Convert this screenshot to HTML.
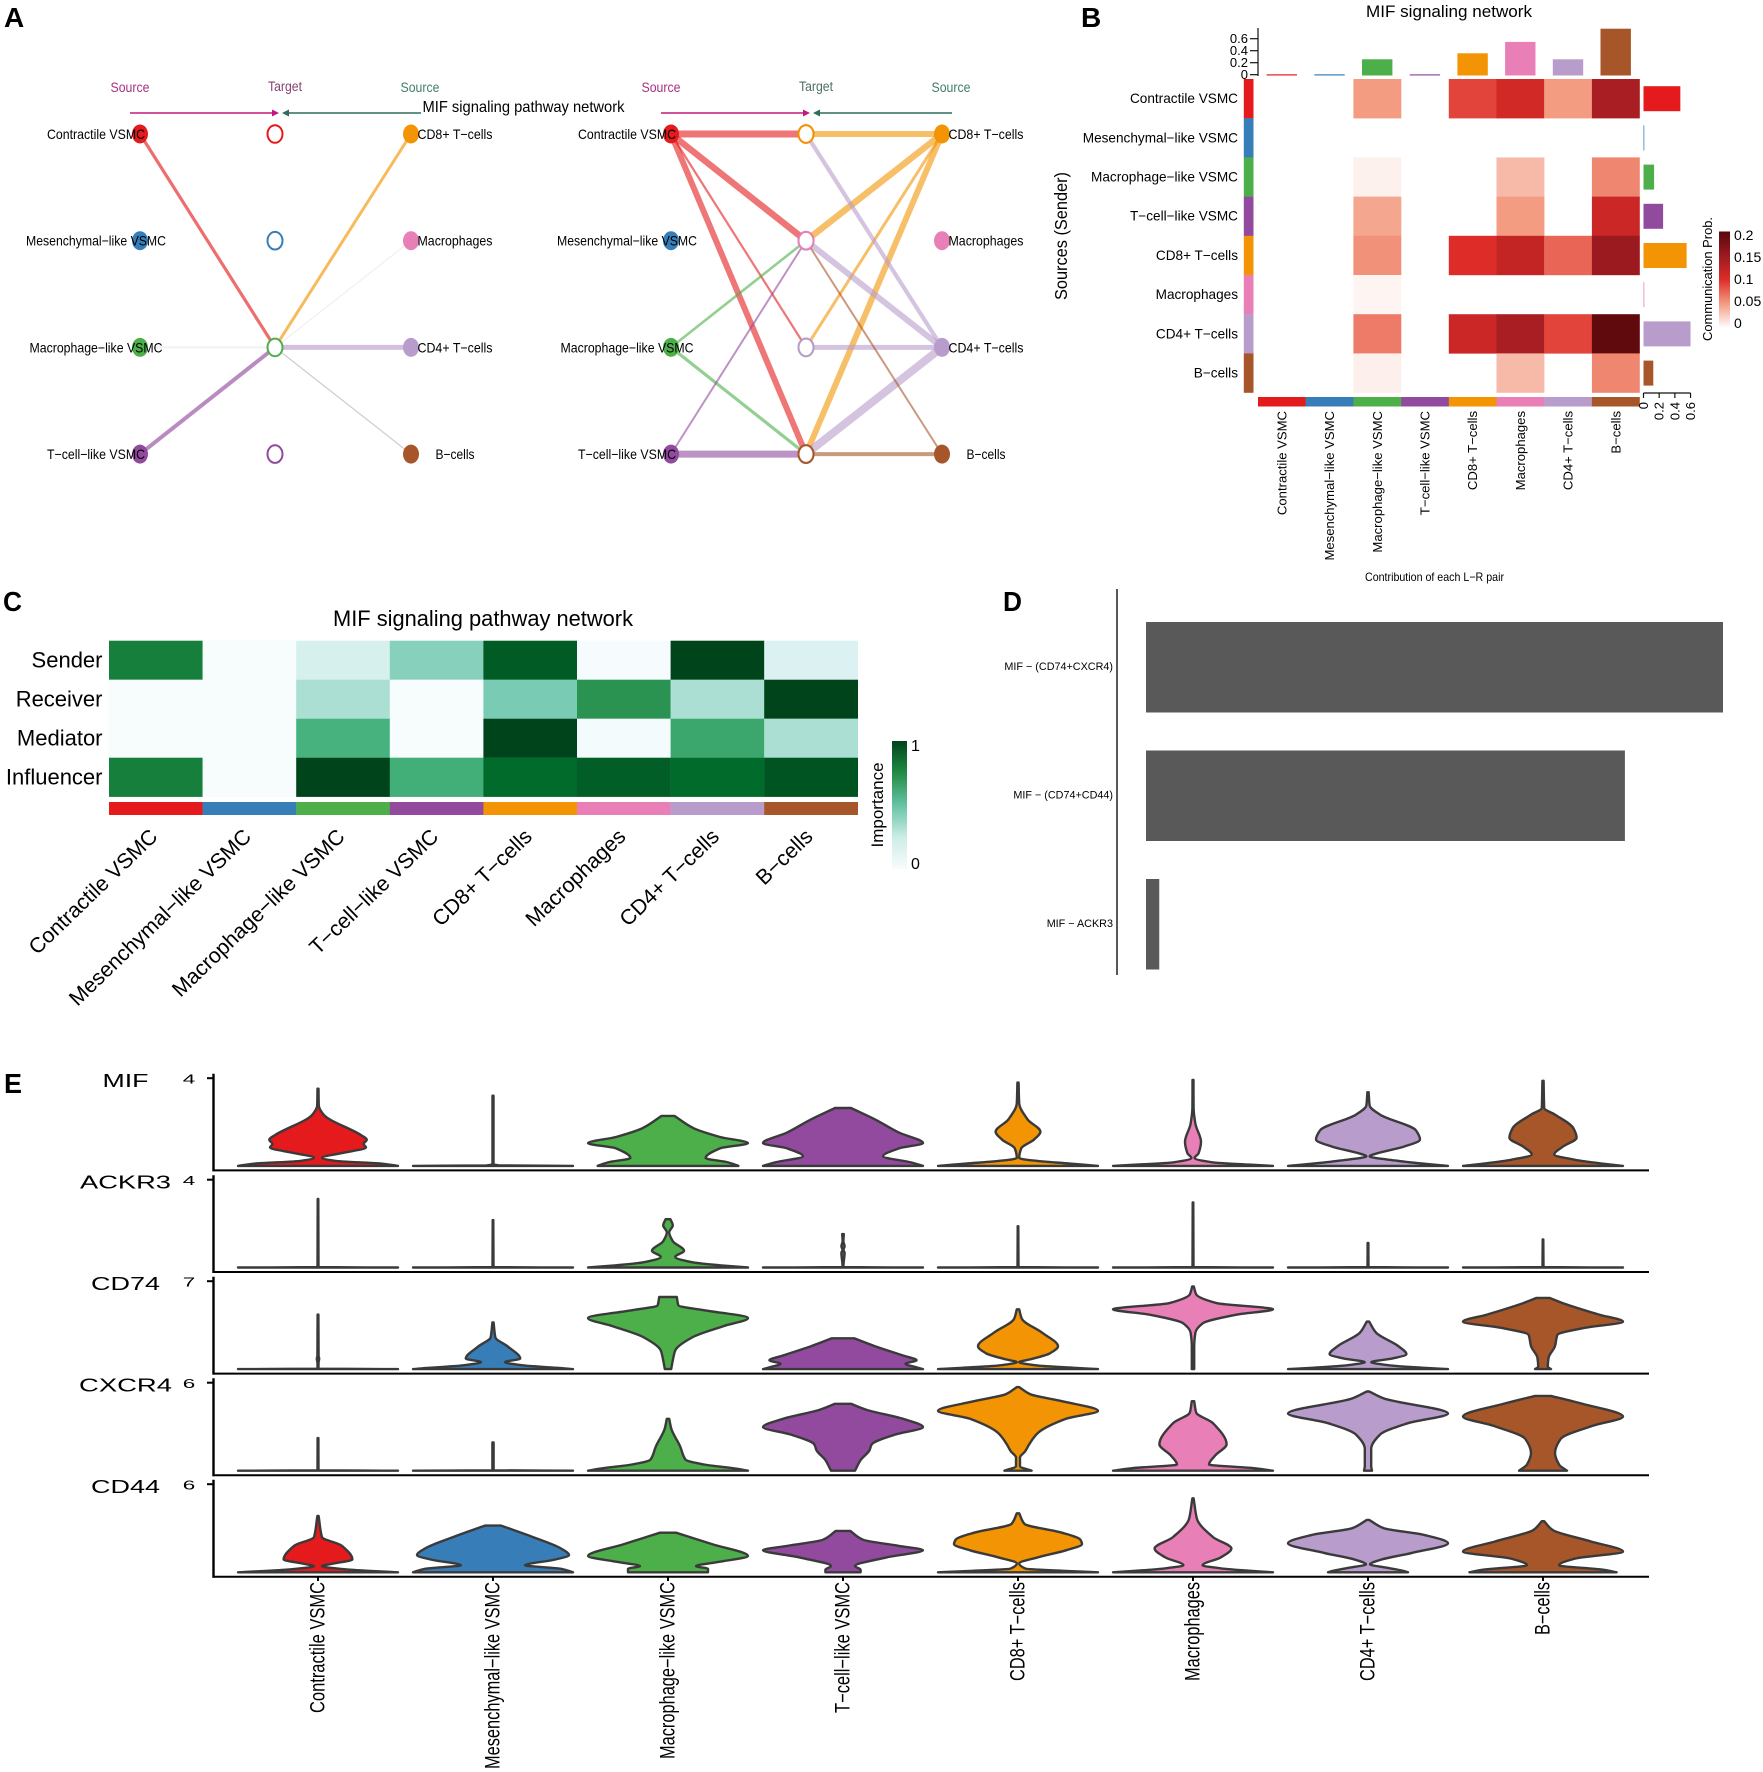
<!DOCTYPE html>
<html lang="en">
<head>
<meta charset="utf-8">
<title>MIF signaling pathway network</title>
<style>
html,body{margin:0;padding:0;background:#fff;}
svg{display:block;font-family:"Liberation Sans",Arial,sans-serif;}
</style>
</head>
<body>
<svg id="figure" xmlns="http://www.w3.org/2000/svg" width="1763" height="1772" viewBox="0 0 1763 1772">
  <defs>
    <linearGradient id="probGrad" x1="0" y1="1" x2="0" y2="0">
      <stop offset="0" stop-color="#ffffff"/><stop offset="0.25" stop-color="#f39c82"/><stop offset="0.5" stop-color="#de2d28"/><stop offset="0.75" stop-color="#9a1a20"/><stop offset="1" stop-color="#5a080c"/>
    </linearGradient>
    <linearGradient id="impGrad" x1="0" y1="1" x2="0" y2="0">
      <stop offset="0" stop-color="#f7fcfd"/><stop offset="0.25" stop-color="#ccece6"/><stop offset="0.5" stop-color="#66c2a4"/><stop offset="0.75" stop-color="#238b45"/><stop offset="1" stop-color="#00441b"/>
    </linearGradient>
  </defs>
  <rect width="1763" height="1772" fill="#fff"/>

  <text x="4" y="27" font-size="28" font-weight="bold">A</text>
  <text x="1081" y="27" font-size="28" font-weight="bold">B</text>
  <text x="3" y="611" font-size="28" font-weight="bold" textLength="19" lengthAdjust="spacingAndGlyphs">C</text>
  <text x="1003" y="611" font-size="28" font-weight="bold" textLength="19" lengthAdjust="spacingAndGlyphs">D</text>
  <text x="4" y="1093" font-size="28" font-weight="bold" textLength="18" lengthAdjust="spacingAndGlyphs">E</text>

  <g id="panelA">
    <text x="422.5" y="112" font-size="16" textLength="202" lengthAdjust="spacingAndGlyphs">MIF signaling pathway network</text>
    <text x="130" y="92" font-size="13.5" text-anchor="middle" fill="#a8307f" textLength="39" lengthAdjust="spacingAndGlyphs">Source</text>
    <text x="285" y="91" font-size="13.5" text-anchor="middle" fill="#8a3f72" textLength="34" lengthAdjust="spacingAndGlyphs">Target</text>
    <text x="420" y="92" font-size="13.5" text-anchor="middle" fill="#3f7f66" textLength="39" lengthAdjust="spacingAndGlyphs">Source</text>
    <text x="661" y="92" font-size="13.5" text-anchor="middle" fill="#a8307f" textLength="39" lengthAdjust="spacingAndGlyphs">Source</text>
    <text x="816" y="91" font-size="13.5" text-anchor="middle" fill="#4c6f66" textLength="34" lengthAdjust="spacingAndGlyphs">Target</text>
    <text x="951" y="92" font-size="13.5" text-anchor="middle" fill="#3f7f66" textLength="39" lengthAdjust="spacingAndGlyphs">Source</text>
    <path d="M130 113H273" stroke="#c2187d" stroke-width="1.6" fill="none"/>
    <path d="M279 113l-7-3.5v7z" fill="#c2187d"/>
    <path d="M421 113H288" stroke="#2e6e5f" stroke-width="1.6" fill="none"/>
    <path d="M282 113l7-3.5v7z" fill="#2e6e5f"/>
    <path d="M661 113H804" stroke="#c2187d" stroke-width="1.6" fill="none"/>
    <path d="M810 113l-7-3.5v7z" fill="#c2187d"/>
    <path d="M952 113H819" stroke="#2e6e5f" stroke-width="1.6" fill="none"/>
    <path d="M813 113l7-3.5v7z" fill="#2e6e5f"/>
  </g>

  <g id="panelB">
    <text x="1449" y="17" font-size="16.5" text-anchor="middle" textLength="166" lengthAdjust="spacingAndGlyphs">MIF signaling network</text>
    <text transform="translate(1067 236) rotate(-90)" font-size="17.5" text-anchor="middle" textLength="128" lengthAdjust="spacingAndGlyphs">Sources (Sender)</text>
    <text transform="translate(1712 279) rotate(-90)" font-size="13" text-anchor="middle" textLength="124" lengthAdjust="spacingAndGlyphs">Communication Prob.</text>
    <text x="1434.5" y="581" font-size="12" text-anchor="middle" textLength="139" lengthAdjust="spacingAndGlyphs">Contribution of each L−R pair</text>
    <rect x="1719" y="231.5" width="11" height="96.5" fill="url(#probGrad)"/>
  </g>

  <g id="panelC">
    <text x="483" y="626" font-size="22" text-anchor="middle" textLength="300" lengthAdjust="spacingAndGlyphs">MIF signaling pathway network</text>
    <rect x="892" y="741" width="15" height="128" fill="url(#impGrad)"/>
    <text transform="translate(883 805) rotate(-90)" font-size="17" text-anchor="middle">Importance</text>
    <text x="911" y="751" font-size="16">1</text>
    <text x="911" y="869" font-size="16">0</text>
  </g>

  <g id="panelD">
    <line x1="1117" y1="589" x2="1117" y2="975" stroke="#111" stroke-width="1.4"/>
  </g>

  <g id="panelE"></g>
</svg>

<script>
// ---------- shared categories ----------
const cellTypes = ['Contractile VSMC', 'Mesenchymal\u2212like VSMC', 'Macrophage\u2212like VSMC', 'T\u2212cell\u2212like VSMC', 'CD8+ T\u2212cells', 'Macrophages', 'CD4+ T\u2212cells', 'B\u2212cells'];
const cellColors = ['#E41A1C', '#377EB8', '#4DAF4A', '#914A9E', '#F29403', '#E87FB6', '#B89CCB', '#A65628'];

// ---------- panel A: network edges (sender, receiver, weight) ----------
const leftEdges = [[0,2,3.2],[2,2,0.5],[3,2,4],[4,2,3],[5,2,0.3],[6,2,5],[7,2,0.32]];
const rightEdges = [[0,4,7],[0,5,6.5],[0,6,2.2],[0,7,6],[2,5,2.6],[2,7,3.2],[3,5,2],[3,7,7],[4,4,6],[4,5,6.5],[4,6,3],[4,7,6],[6,4,4.2],[6,5,6],[6,6,5],[6,7,8],[7,5,2],[7,7,4]];

// ---------- panel B: heatmap values and margins ----------
const probMatrix = [
  [null,null,0.05,null,0.09,0.11,0.05,0.14],
  [null,null,null,null,null,null,null,null],
  [null,null,0.007,null,null,0.035,null,0.06],
  [null,null,0.045,null,null,0.05,null,0.115],
  [null,null,0.055,null,0.1,0.12,0.075,0.15],
  [null,null,0.005,null,null,null,null,null],
  [null,null,0.065,null,0.115,0.14,0.09,0.195],
  [null,null,0.008,null,null,0.035,null,0.06]
];
const incomingTotals = [0.02,0.02,0.27,0.02,0.37,0.56,0.27,0.78];
const outgoingTotals = [0.47,0.01,0.135,0.25,0.55,0.01,0.6,0.125];
const topTickValues = [0,0.2,0.4,0.6];
const rightTickValues = [0,0.2,0.4,0.6];
const probLegendValues = [0,0.05,0.1,0.15,0.2];

// ---------- panel C: signaling roles ----------
const roleNames = ['Sender','Receiver','Mediator','Influencer'];
const roleMatrix = [
  [0.8,0,0.2,0.42,0.93,0.01,1,0.17],
  [0,0,0.33,0,0.45,0.72,0.33,1],
  [0,0,0.6,0,1,0.02,0.65,0.33],
  [0.8,0,1,0.62,0.88,0.92,0.88,0.95]
];

// ---------- panel D: L-R pair contributions ----------
const lrPairs = ['MIF \u2212 (CD74+CXCR4)','MIF \u2212 (CD74+CD44)','MIF \u2212 ACKR3'];
const lrValues = [1,0.83,0.023];

// ---------- panel E: violins, [level as % of axis max, density as % of max width] ----------
const geneNames = ['MIF','ACKR3','CD74','CXCR4','CD44'];
const geneTickLabels = ['4','4','7','6','6'];
const mifViolins = [
  [[88,0.6],[69,1],[58.5,7],[35,54],[30,61],[25,57],[21,60],[14.5,29],[9.3,5],[5.7,22],[2.6,79],[0,100]],
  [[80,0.6],[2,0.6],[0.6,8],[0,100]],
  [[57,8],[43,32],[33,65],[26,100],[20,65],[9,47],[4,75],[0,88]],
  [[66,10],[53,40],[38,70],[26,100],[20,70],[11,50],[4,85],[0,100]],
  [[95,0.8],[71.5,1.5],[53,12],[39,28],[30,20],[20,4],[9,1.5],[6,20],[2.6,65],[0,100]],
  [[98,0.6],[66,0.8],[48,3],[27.5,10],[14.5,7],[9,2],[4,25],[1.5,70],[0,100]],
  [[84,0.8],[69,2],[58.5,15],[40.5,60],[30,65],[22,45],[14.5,12],[11,2],[6,35],[2,75],[0,100]],
  [[97,0.8],[66,1.5],[58.5,15],[43,38],[32,42],[22,25],[13,14],[7,40],[2.5,75],[0,100]]
];
const ackr3Violins = [
  [[78,0.4],[1,0.6],[0.4,2],[0,100]],
  [[54,0.4],[1,0.6],[0.4,2],[0,100]],
  [[55,3],[48,6],[40,1.5],[30,6],[19,20],[12,9],[6,30],[2.5,65],[0,100]],
  [[38,1],[30,0.5],[24,2],[20,0.5],[17,2],[1,0.5],[0.4,2],[0,100]],
  [[47,0.4],[1,0.6],[0.4,2],[0,100]],
  [[74,0.4],[1,0.6],[0.4,2],[0,100]],
  [[28,0.5],[1,0.6],[0.4,2],[0,100]],
  [[32,0.4],[1,0.6],[0.4,2],[0,100]]
];
const cd74Violins = [
  [[62,0.5],[15,0.8],[12,1.5],[8,0.8],[1,0.6],[0.4,2],[0,100]],
  [[53,0.8],[36,3],[26,18],[12,34],[8,15],[4,40],[1.5,80],[0,100]],
  [[82,11],[72.5,13],[67,45],[58,100],[49,70],[36,30],[21,9],[10,6],[0,4]],
  [[35,14],[26,40],[15.5,75],[10,92],[6,78],[2.5,90],[0,100]],
  [[68,1.5],[57,5],[41.5,30],[26,50],[18,40],[11,15],[8,1.5],[4,25],[1.5,70],[0,100]],
  [[94,1],[85,4],[75,30],[68,100],[62,55],[52,12],[41.5,3],[26,1.5],[0,1.5]],
  [[54,1.5],[41.5,10],[26,38],[17,48],[12,30],[8,4],[4,30],[1.5,70],[0,100]],
  [[81,8],[75,25],[62,70],[54,100],[46.5,50],[39,18],[26,15],[13,7],[2.5,6],[0,10]]
];
const cxcr4Violins = [
  [[37,0.5],[1,0.6],[0.4,2],[0,100]],
  [[32,0.8],[1,0.8],[0.4,2],[0,100]],
  [[59,1.5],[48,4],[28,15],[12.5,22],[7,45],[3,80],[0,100]],
  [[76,10],[69,30],[59,75],[49.5,100],[41,65],[30,36],[23,33],[12,22],[0,15]],
  [[95,1.5],[87,15],[79,55],[68,100],[59,60],[43,25],[30,14],[22,9],[15,2.5],[5,2.5],[0,17]],
  [[79,1.5],[66,4],[54,25],[30,42],[17.5,28],[7,20],[3,75],[0,100]],
  [[90,1.5],[82,20],[65,100],[54,50],[41,15],[25,4],[5,4],[0,5]],
  [[85,10],[77,45],[61.5,100],[51,62],[36,22],[20,15],[7,20],[0,30]]
];
const cd44Violins = [
  [[64,0.8],[40,5],[30,30],[14.5,43],[10,20],[7,5],[3,40],[0,100]],
  [[53,10],[40,50],[27,85],[19.5,95],[14,75],[8,40],[4,85],[0,100]],
  [[45,10],[32,55],[18.5,100],[12,65],[7,35],[4,50],[0,50]],
  [[47,9],[37,25],[30,70],[25,100],[17,55],[7,15],[3,22],[0,22]],
  [[67,1.5],[55,8],[45,55],[37,78],[32,80],[25,60],[17,25],[10,1.5],[4,10],[1.5,60],[0,100]],
  [[84,0.8],[60.5,5],[40,25],[27,48],[17,35],[8,12],[4,40],[0,100]],
  [[59.5,1.5],[50,20],[42.5,70],[33,100],[22,55],[14,15],[9,2.5],[5,25],[1.5,45],[0,50]],
  [[58,1.5],[48,12],[35,60],[23.5,100],[15.5,40],[8,20],[3,75],[0,92]]
];
const violinSets = [mifViolins, ackr3Violins, cd74Violins, cxcr4Violins, cd44Violins];

// ---------- helpers ----------
const NS = 'http://www.w3.org/2000/svg';
function mk(parent, tag, attrs){
  const el = document.createElementNS(NS, tag);
  for (const k in attrs) el.setAttribute(k, attrs[k]);
  parent.appendChild(el);
  return el;
}
function txt(parent, str, attrs){
  const el = mk(parent, 'text', attrs);
  el.textContent = str;
  return el;
}
function hex(c){ return [parseInt(c.slice(1,3),16),parseInt(c.slice(3,5),16),parseInt(c.slice(5,7),16)]; }
function ramp(stops, t){
  t = Math.max(0, Math.min(1, t));
  const p = t * (stops.length - 1), i = Math.min(Math.floor(p), stops.length - 2), f = p - i;
  const a = hex(stops[i]), b = hex(stops[i + 1]);
  return 'rgb(' + a.map((v, j) => Math.round(v + (b[j] - v) * f)).join(',') + ')';
}
const redRamp = ['#ffffff','#f39c82','#de2d28','#9a1a20','#5a080c'];
const greenRamp = ['#f7fcfd','#e5f5f9','#ccece6','#99d8c9','#66c2a4','#41ae76','#238b45','#006d2c','#00441b'];

// ---------- panel A drawing ----------
const panelA = document.getElementById('panelA');
const rowY = r => 134 + r * 106.7;
const rowOf = i => i % 4;
const nodeLabelLengths = [98, 140, 133, 98, 75, 75, 75, 39];
const edgeWidth = w => w < 1 ? w * 4 : w;
const edgeOpacity = (e, dx) => e[2] < 1 ? (e[0] === 7 ? 0.4 : 0.13) : (dx ? 0.6 : 0.64);
function drawNetwork(edges, dx, prefix){
  const srcX = 140 + dx, tgtX = 275 + dx, rightX = 411 + dx;
  edges.forEach(e => {
    const fromX = e[0] < 4 ? srcX : rightX;
    const l = mk(panelA, 'line', {x1: fromX, y1: rowY(rowOf(e[0])), x2: tgtX, y2: rowY(rowOf(e[1])), stroke: e[2] < 1 ? '#888' : cellColors[e[0]], 'stroke-width': edgeWidth(e[2]), 'stroke-opacity': edgeOpacity(e, dx)});
    
    
  });
  cellTypes.forEach((name, i) => {
    const x = i < 4 ? srcX : rightX;
    const n = mk(panelA, 'ellipse', {cx: x, cy: rowY(rowOf(i)), rx: 8, ry: 9.5, fill: cellColors[i]});
    
    
    if (i < 4) {
      const t = mk(panelA, 'ellipse', {cx: tgtX, cy: rowY(i), rx: 7.5, ry: 8.8, fill: '#fff', stroke: cellColors[i], 'stroke-width': 2});
      
      
    }
  });
  if (dx) {
    [4,5,6,7].forEach((i, r) => {
      const t = mk(panelA, 'ellipse', {cx: tgtX, cy: rowY(r), rx: 7.5, ry: 8.8, fill: '#fff', stroke: cellColors[i], 'stroke-width': 2});
      
      
    });
  }
  cellTypes.forEach((name, i) => {
    const x = (i < 4 ? 96 : 455) + dx;
    const lab = txt(panelA, name, {x: x, y: rowY(rowOf(i)), 'font-size': 14, 'text-anchor': 'middle', 'dominant-baseline': 'central', textLength: nodeLabelLengths[i], lengthAdjust: 'spacingAndGlyphs'});
    
    
  });
}
drawNetwork(leftEdges, 0, 'left-network');
drawNetwork(rightEdges, 531, 'right-network');

// ---------- panel B drawing ----------
const panelB = document.getElementById('panelB');
const bColX = c => 1258 + c * 47.7;
const bRowY = r => 79 + r * 39.2;
const bTopY = v => 75.5 - v * 60;
const bRightX = v => 1643.5 + v * 78.4;
const bLegendY = v => 323 - v * 440;
probMatrix.forEach((row, r) => row.forEach((v, c) => {
  if (v === null) return;
  const cell = mk(panelB, 'rect', {x: bColX(c), y: bRowY(r), width: 47.9, height: 39.4, fill: ramp(redRamp, v / 0.2)});
  
  
}));
cellTypes.forEach((name, i) => {
  const side = mk(panelB, 'rect', {x: 1243.8, y: bRowY(i), width: 9.7, height: 39.4, fill: cellColors[i]});
  
  
  const under = mk(panelB, 'rect', {x: bColX(i), y: 397, width: 47.9, height: 9.5, fill: cellColors[i]});
  
  
  const topBar = mk(panelB, 'rect', {x: bColX(i) + 8.6, y: bTopY(incomingTotals[i]), width: 30.4, height: incomingTotals[i] * 60, fill: cellColors[i]});
  
  
  const sideBar = mk(panelB, 'rect', {x: bRightX(0), y: bRowY(i) + 7.2, width: outgoingTotals[i] * 78.4, height: 25, fill: cellColors[i]});
  
  
  const rowLab = txt(panelB, name, {x: 1238, y: bRowY(i) + 19.6, 'font-size': 13.6, 'text-anchor': 'end', 'dominant-baseline': 'central'});
  
  
  const colLab = txt(panelB, name, {transform: 'translate(' + (bColX(i) + 23.9) + ' 411) rotate(-90)', 'font-size': 13.1, 'text-anchor': 'end', 'dominant-baseline': 'central'});
  
  
});
const topAxis = mk(panelB, 'line', {x1: 1258, y1: 28, x2: 1258, y2: 76, stroke: '#111', 'stroke-width': 1.2});


topTickValues.forEach(v => {
  const t = mk(panelB, 'line', {x1: 1250, y1: bTopY(v) - 0.8, x2: 1258, y2: bTopY(v) - 0.8, stroke: '#111', 'stroke-width': 1.2});
  
  
  const l = txt(panelB, String(v), {x: 1248, y: bTopY(v) - 0.8, 'font-size': 13, 'text-anchor': 'end', 'dominant-baseline': 'central'});
  
  
});
const rightAxis = mk(panelB, 'line', {x1: bRightX(0), y1: 393, x2: bRightX(0.6), y2: 393, stroke: '#111', 'stroke-width': 1.2});


rightTickValues.forEach(v => {
  const t = mk(panelB, 'line', {x1: bRightX(v), y1: 393, x2: bRightX(v), y2: 398, stroke: '#111', 'stroke-width': 1.2});
  
  
  const l = txt(panelB, String(v), {transform: 'translate(' + bRightX(v) + ' 402) rotate(-90)', 'font-size': 13, 'text-anchor': 'end', 'dominant-baseline': 'central'});
  
  
});
probLegendValues.forEach(v => {
  const l = txt(panelB, String(v), {x: 1734, y: bLegendY(v), 'font-size': 14, 'dominant-baseline': 'central'});
  
  
});

// ---------- panel C drawing ----------
const panelC = document.getElementById('panelC');
const cColX = c => 109 + c * 93.6;
const cRowY = r => 640.7 + r * 39;
roleMatrix.forEach((row, r) => {
  row.forEach((v, c) => {
    const cell = mk(panelC, 'rect', {x: cColX(c), y: cRowY(r), width: 93.8, height: 39.2, fill: ramp(greenRamp, v)});
    
    
  });
  const lab = txt(panelC, roleNames[r], {x: 102.5, y: cRowY(r) + 19.5, 'font-size': 22, 'text-anchor': 'end', 'dominant-baseline': 'central'});
  
  
});
cellTypes.forEach((name, i) => {
  const strip = mk(panelC, 'rect', {x: cColX(i), y: 802, width: 93.8, height: 13, fill: cellColors[i]});
  
  
  const lab = txt(panelC, name, {transform: 'translate(' + (cColX(i) + 45) + ' 833) rotate(-44)', 'font-size': 21.3, 'text-anchor': 'end', 'dominant-baseline': 'central'});
  
  
});

// ---------- panel D drawing ----------
const panelD = document.getElementById('panelD');
const dX = v => 1146 + v * 577;
const dY = i => 622 + i * 128.5;
lrPairs.forEach((name, i) => {
  const bar = mk(panelD, 'rect', {x: dX(0), y: dY(i), width: dX(lrValues[i]) - dX(0), height: 90.5, fill: '#595959'});
  
  
  const lab = txt(panelD, name, {x: 1113, y: dY(i) + 45.2, 'font-size': 10.8, 'text-anchor': 'end', 'dominant-baseline': 'central'});
  
  
});

// ---------- panel E drawing ----------
const panelE = document.getElementById('panelE');
const eColX = c => 318 + c * 175;
const eAxisY = g => 1170.4 + g * 101.6;
const eTickY = g => 1078.2 + g * 101.5;
const eBottomY = g => eAxisY(g) - 4.5;
const eLevelY = (g, v) => eBottomY(g) - v / 100 * (eBottomY(g) - eTickY(g));
const eWidth = d => d * 0.8;
const geneLabelWidths = [46, 91, 69, 93, 69];
// monotone cubic segments of density against level, bottom to top
function violinSegments(profile){
  const pts = profile.slice().reverse();
  const n = pts.length, s = [], m = [];
  for (let i = 0; i < n - 1; i++) s.push((pts[i + 1][1] - pts[i][1]) / (pts[i + 1][0] - pts[i][0]));
  m[0] = s[0];
  m[n - 1] = s[n - 2];
  for (let i = 1; i < n - 1; i++) m[i] = s[i - 1] * s[i] <= 0 ? 0 : 2 * s[i - 1] * s[i] / (s[i - 1] + s[i]);
  const segs = [];
  for (let i = 0; i < n - 1; i++) {
    const h = pts[i + 1][0] - pts[i][0];
    segs.push([pts[i], [pts[i][0] + h / 3, pts[i][1] + m[i] * h / 3], [pts[i + 1][0] - h / 3, pts[i + 1][1] - m[i + 1] * h / 3], pts[i + 1]]);
  }
  return segs;
}
function violinPath(g, cx, profile){
  const segs = violinSegments(profile);
  const pt = (p, sign) => (cx + sign * eWidth(Math.max(0, p[1]))).toFixed(1) + ' ' + eLevelY(g, p[0]).toFixed(1);
  let d = 'M' + pt(segs[0][0], -1);
  segs.forEach(q => { d += 'C' + pt(q[1], -1) + ' ' + pt(q[2], -1) + ' ' + pt(q[3], -1); });
  d += 'L' + pt(segs[segs.length - 1][3], 1);
  segs.slice().reverse().forEach(q => { d += 'C' + pt(q[2], 1) + ' ' + pt(q[1], 1) + ' ' + pt(q[0], 1); });
  return d + 'Z';
}
violinSets.forEach((set, g) => {
  const name = txt(panelE, geneNames[g], {x: 125.5, y: eTickY(g) + 3, 'font-size': 18, 'text-anchor': 'middle', 'dominant-baseline': 'central', textLength: geneLabelWidths[g], lengthAdjust: 'spacingAndGlyphs'});
  
  
  const tickLab = txt(panelE, geneTickLabels[g], {x: 189, y: eTickY(g) + 1, 'font-size': 13, 'text-anchor': 'middle', 'dominant-baseline': 'central', textLength: 12.5, lengthAdjust: 'spacingAndGlyphs'});
  
  
  const tick = mk(panelE, 'line', {x1: 207, y1: eTickY(g), x2: 213.5, y2: eTickY(g), stroke: '#000', 'stroke-width': 2});
  
  
  const yAxis = mk(panelE, 'line', {x1: 213.5, y1: eTickY(g) - 4.5, x2: 213.5, y2: eAxisY(g) + 1, stroke: '#000', 'stroke-width': 2.4});
  
  
  const xAxis = mk(panelE, 'line', {x1: 212.5, y1: eAxisY(g), x2: 1649, y2: eAxisY(g), stroke: '#000', 'stroke-width': 2});
  
  
  set.forEach((profile, c) => {
    const v = mk(panelE, 'path', {d: violinPath(g, eColX(c), profile), fill: cellColors[c], stroke: '#3a3a3a', 'stroke-width': 2.4, 'stroke-linejoin': 'round'});
    
    
  });
});
const xLabelLengths = [131, 187, 177, 131, 99, 99, 99, 53];
cellTypes.forEach((name, i) => {
  const t = mk(panelE, 'line', {x1: eColX(i), y1: 1577, x2: eColX(i), y2: 1581, stroke: '#000', 'stroke-width': 2});
  
  
  const lab = txt(panelE, name, {transform: 'translate(' + eColX(i) + ' 1582) rotate(-90)', 'font-size': 21, 'text-anchor': 'end', 'dominant-baseline': 'central', textLength: xLabelLengths[i], lengthAdjust: 'spacingAndGlyphs'});
  
  
});
</script>
</body>
</html>
